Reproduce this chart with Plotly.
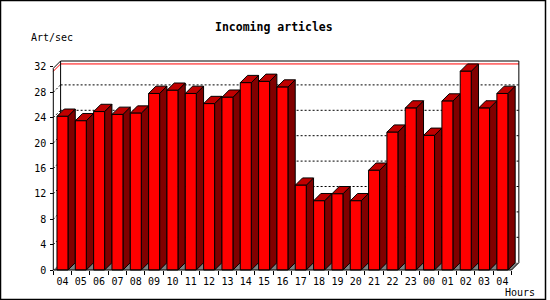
import plotly.graph_objects as go

# ---------------- data ----------------
hours = ["04", "05", "06", "07", "08", "09", "10", "11", "12", "13", "14", "15", "16",
         "17", "18", "19", "20", "21", "22", "23", "00", "01", "02", "03", "04"]
values = [24.2, 23.5, 24.95, 24.5, 24.7, 27.8, 28.3, 27.8, 26.2, 27.2, 29.5, 29.7, 28.8,
          13.35, 10.9, 12.0, 10.9, 15.7, 21.7, 25.5, 21.2, 26.6, 31.3, 25.5, 27.8]
y_ticks = [0, 4, 8, 12, 16, 20, 24, 28, 32]
grid_values = [4, 8, 12, 16, 20, 24, 28]
title_text = "Incoming articles"
y_label = "Art/sec"
x_label = "Hours"

# ---------------- geometry / style ----------------
W, H = 550, 300
ML, MR, MT, MB = 40, 20, 50, 20
PX_X = 18.33      # pixels per hour slot
PX_Y = 6.35       # pixels per unit
X0_PIX, Y0_PIX = 53.3, 270.0
DEPTH = 7.3       # 3D depth in pixels
DX, DY = DEPTH / PX_X, DEPTH / PX_Y
V_TOP = (Y0_PIX - DEPTH - 61) / PX_Y
BAR_OFF, BAR_W = 0.2, 0.6
N = len(values)

PW, PH = W - ML - MR, H - MT - MB
xr = [(ML - X0_PIX) / PX_X, (W - MR - X0_PIX) / PX_X]
yr = [(Y0_PIX - (H - MB)) / PX_Y, (Y0_PIX - MT) / PX_Y]

FRONT, SIDE, TOP, FLOOR = "#FF0000", "#800000", "#C00000", "#808080"
FONT = "DejaVu Sans Mono"


def px_x(p):
    return (p - ML) / PW


def px_y(q):
    return (H - MB - q) / PH


def poly(pts, fill, line_color="black", width=1):
    path = "M " + " L ".join(f"{x},{y}" for x, y in pts) + " Z"
    return dict(type="path", path=path, xref="x", yref="y", fillcolor=fill,
                line=dict(color=line_color, width=width), layer="above")


def seg(x0, y0, x1, y1, color="black", dash="solid", width=1):
    return dict(type="line", x0=x0, y0=y0, x1=x1, y1=y1, xref="x", yref="y",
                line=dict(color=color, width=width, dash=dash), layer="above")


shapes = []
# floor
shapes.append(poly([(0, 0), (N, 0), (N + DX, DY), (DX, DY)], FLOOR, line_color="rgba(0,0,0,0)", width=0))
# back wall grid
for v in grid_values:
    shapes.append(seg(DX, v + DY, N + DX, v + DY, dash="2px,2px"))
    shapes.append(seg(0, v, DX, v + DY, dash="2px,2px"))
# max line
m = max(values)
shapes.append(seg(DX, m + DY, N + DX, m + DY, color="#FF0000"))
shapes.append(seg(0, m, DX, m + DY, color="#FF0000"))
# frame
shapes.append(seg(DX, DY, DX, V_TOP + DY))
shapes.append(seg(DX, V_TOP + DY, N + DX, V_TOP + DY))
shapes.append(seg(N + DX, DY, N + DX, V_TOP + DY))
shapes.append(seg(N, 0, N + DX, DY))
shapes.append(seg(0, V_TOP, DX, V_TOP + DY))

# bars
for i, v in enumerate(values):
    x0 = i + BAR_OFF
    x1 = x0 + BAR_W
    shapes.append(poly([(x1, 0), (x1 + DX, DY), (x1 + DX, v + DY), (x1, v)], SIDE))
    shapes.append(poly([(x0, v), (x0 + DX, v + DY), (x1 + DX, v + DY), (x1, v)], TOP))
    shapes.append(poly([(x0, 0), (x1, 0), (x1, v), (x0, v)], FRONT))

# front axes
shapes.append(seg(0, 0, 0, V_TOP))
shapes.append(seg(0, 0, N, 0))

# image border
shapes.append(dict(type="rect", xref="paper", yref="paper",
                   x0=px_x(0.5), x1=px_x(545.5), y0=px_y(299.5), y1=px_y(0.5),
                   line=dict(color="black", width=1.5), fillcolor="rgba(0,0,0,0)"))

fig = go.Figure()
fig.add_trace(go.Scatter(x=[0.5], y=[0], mode="markers", marker=dict(opacity=0),
                         hoverinfo="skip", showlegend=False))

annotations = [
    dict(text=f"<b>{title_text}</b>", x=px_x(274), y=px_y(27), xref="paper", yref="paper",
         showarrow=False, xanchor="center", yanchor="middle",
         font=dict(family=FONT, size=11.5, color="black")),
    dict(text=y_label, x=px_x(29), y=px_y(37), xref="paper", yref="paper",
         showarrow=False, xanchor="left", yanchor="middle",
         font=dict(family=FONT, size=10, color="black")),
    dict(text=x_label, x=px_x(503), y=px_y(292), xref="paper", yref="paper",
         showarrow=False, xanchor="left", yanchor="middle",
         font=dict(family=FONT, size=10, color="black")),
]

fig.update_layout(
    width=W, height=H,
    margin=dict(l=ML, r=MR, t=MT, b=MB, pad=0),
    paper_bgcolor="white", plot_bgcolor="white",
    shapes=shapes, annotations=annotations, showlegend=False,
    xaxis=dict(range=xr, anchor="free", position=px_y(Y0_PIX),
               tickmode="array", tickvals=[i + 0.5 for i in range(N)], ticktext=hours,
               ticks="", showgrid=False, zeroline=False, showline=False,
               ticklabelstandoff=4,
               tickfont=dict(family=FONT, size=10, color="black"),
               minor=dict(tickmode="array", tickvals=list(range(N + 1)), ticks="outside",
                          ticklen=4, tickcolor="black", tickwidth=1, showgrid=False),
               fixedrange=True),
    yaxis=dict(range=yr, anchor="free", position=px_x(X0_PIX),
               tickmode="array", tickvals=y_ticks, ticktext=[str(t) for t in y_ticks],
               ticks="outside", ticklen=3, tickcolor="black", tickwidth=1,
               showgrid=False, zeroline=False, showline=False,
               ticklabelstandoff=2,
               tickfont=dict(family=FONT, size=10, color="black"),
               fixedrange=True),
)

fig.write_html("out.html")
